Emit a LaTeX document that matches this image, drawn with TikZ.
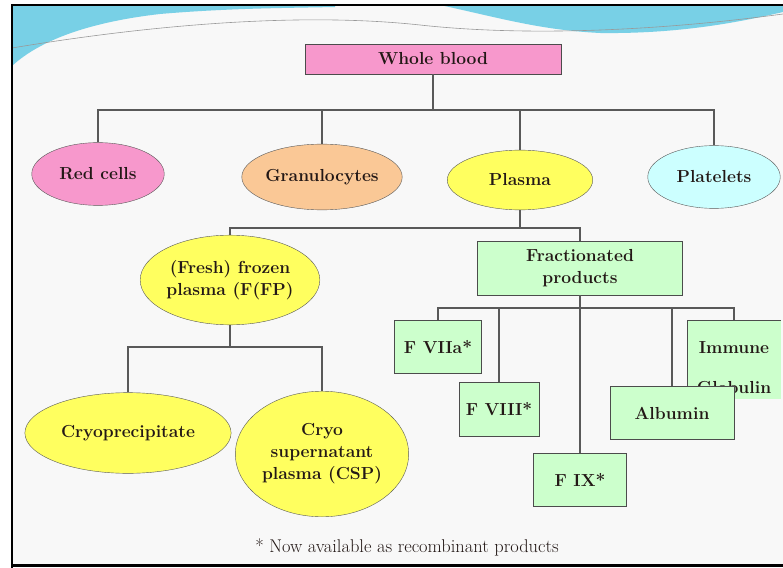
\documentclass[tikz,border=0pt]{standalone}
\usepackage{tikz}
\usetikzlibrary{shapes.geometric,positioning}
\definecolor{bloodpink}{RGB}{247,152,204}
\definecolor{granpeach}{RGB}{250,200,150}
\definecolor{plasmayellow}{RGB}{255,255,95}
\definecolor{platecyan}{RGB}{204,255,255}
\definecolor{fracgreen}{RGB}{204,255,204}
\definecolor{slidebg}{RGB}{248,248,248}
\definecolor{waveblue}{RGB}{120,208,230}
\definecolor{inkbrown}{RGB}{35,24,22}
\tikzset{
  lbl/.style={font=\fontsize{17.5}{22}\selectfont\bfseries, text=inkbrown, align=center},
  oval/.style={ellipse, draw=black!65, thin, inner sep=0pt, lbl},
  prodbox/.style={rectangle, draw=black!70, thin, fill=fracgreen, inner sep=0pt, lbl},
  link/.style={draw=black!65, line width=1.1pt}
}

\begin{document}
\begin{tikzpicture}[x=1bp, y=-1bp]
  % slide background and frame
  \useasboundingbox (0,0) rectangle (783,568);
  \fill[white] (0,0) rectangle (783,568);
  \fill[slidebg] (12,5) rectangle (783,565);
  \fill[waveblue] (12,5) -- (12,66) .. controls (40,40) and (90,22) .. (160,14)
    .. controls (230,8) and (290,8) .. (335,7) -- (335,5) -- cycle;
  \fill[waveblue] (440,5) .. controls (500,18) and (540,30) .. (600,33)
    .. controls (680,34) and (740,22) .. (783,12) -- (783,5) -- cycle;
  \draw[black!40, line width=0.6pt] (12,48) .. controls (150,25) and (300,12) .. (420,25)
    .. controls (520,36) and (650,32) .. (783,14);
  \draw[black, line width=1.2pt] (12,568) -- (12,5) -- (783,5);
  \draw[black, line width=3pt] (12,565.5) -- (783,565.5);

  % top level
  \node[prodbox, fill=bloodpink, minimum width=257, minimum height=30] (whole) at (433,59) {Whole blood};
  \node[oval, fill=bloodpink, minimum width=133, minimum height=63] (red) at (98,174) {Red cells};
  \node[oval, fill=granpeach, minimum width=152, minimum height=66] (gran) at (322,177) {Granulocytes};
  \node[oval, fill=plasmayellow, minimum width=146, minimum height=60] (plasma) at (520,180) {Plasma};
  \node[oval, fill=platecyan, minimum width=133, minimum height=63] (plate) at (714,177) {Platelets};

  % plasma branch
  \node[oval, fill=plasmayellow, minimum width=179, minimum height=90] (ffp) at (230,280) {(Fresh) frozen\\plasma (F(FP)};
  \node[prodbox, minimum width=206, minimum height=54] (frac) at (580,268) {Fractionated\\products};
  \node[oval, fill=plasmayellow, minimum width=207, minimum height=81] (cryo) at (128,433) {Cryoprecipitate};
  \node[oval, fill=plasmayellow, minimum width=174, minimum height=126] (csp) at (322,454) {Cryo\\supernatant\\plasma (CSP)};

  % fractionated products
  \node[prodbox, minimum width=87, minimum height=53] (f7) at (438,347) {F VIIa*};
  \node[prodbox, minimum width=80, minimum height=54] (f8) at (499,409) {F VIII*};
  \node[prodbox, minimum width=93, minimum height=53] (f9) at (580,480) {F IX*};
  \node[prodbox, draw=none, minimum width=94, minimum height=79] (immune) at (734,360) {\rule{0pt}{28pt}Immune\\[18pt]Globulin};
  \draw[draw=black!70, thin] (immune.south west) -- (immune.north west) -- (immune.north east);
  \node[prodbox, minimum width=124, minimum height=53] (alb) at (672,413) {Albumin};

  \node[font=\fontsize{18.5}{21}\selectfont, text=inkbrown] (note) at (407,547) {* Now available as recombinant products};

  % connectors
  \coordinate (bus1) at (433,110);
  \coordinate (bus2) at (520,228);
  \coordinate (bus3) at (230,347);
  \coordinate (bus4) at (580,308);
  \draw[link] (whole.south) -- (bus1);
  \draw[link] (red.north) -- (red.north |- bus1) -- (plate.north |- bus1) -- (plate.north);
  \draw[link] (gran.north) -- (gran.north |- bus1);
  \draw[link] (plasma.north) -- (plasma.north |- bus1);
  \draw[link] (plasma.south) -- (bus2);
  \draw[link] (ffp.north) -- (ffp.north |- bus2) -- (frac.north |- bus2) -- (frac.north);
  \draw[link] (ffp.south) -- (bus3);
  \draw[link] (cryo.north) -- (cryo.north |- bus3) -- (csp.north |- bus3) -- (csp.north);
  \draw[link] (frac.south) -- (f9.north);
  \draw[link] (f7.north) -- (f7.north |- bus4) -- (immune.north |- bus4) -- (immune.north);
  \draw[link] (f8.north) -- (f8.north |- bus4);
  \draw[link] (alb.north) -- (alb.north |- bus4);
\end{tikzpicture}
\end{document}
